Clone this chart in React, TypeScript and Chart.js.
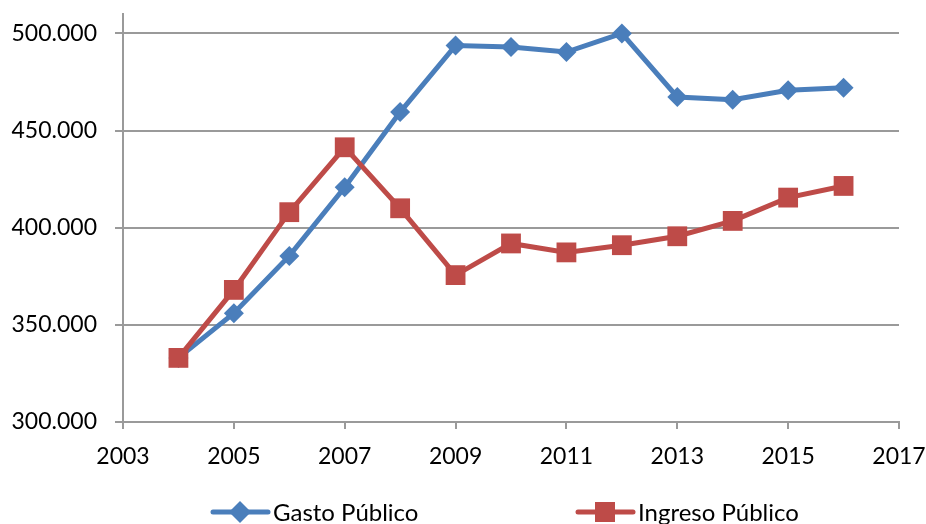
import React, { useEffect, useRef } from "react";
import { Chart, registerables } from "chart.js";

Chart.register(...registerables);

const years = [2004, 2005, 2006, 2007, 2008, 2009, 2010, 2011, 2012, 2013, 2014, 2015, 2016];
const gastoPublico = [333000, 356000, 385500, 420800, 459500, 493800, 493000, 490400, 500000, 467300, 465900, 470700, 472100];
const ingresoPublico = [333000, 368000, 408000, 441400, 410000, 375600, 391900, 387300, 391000, 395600, 403500, 415500, 421500];
const seriesNames = ["Gasto Público", "Ingreso Público"];
const yTicks = [300000, 350000, 400000, 450000, 500000];
const xTicks = [2003, 2005, 2007, 2009, 2011, 2013, 2015, 2017];

const BLUE = "#4A7EBB";
const RED = "#BE4B48";
const GRID = "#9a9a9a";
const FONT = "Lato";

function fmtThousands(v: number): string {
  const s = Math.round(v).toString();
  return s.replace(/\B(?=(\d{3})+(?!\d))/g, ".");
}

const legendPlugin = {
  id: "customLegend",
  afterDraw(chart: any) {
    const ctx = chart.ctx;
    const items = [
      { name: seriesNames[0], color: BLUE, style: "diamond", x: 213 },
      { name: seriesNames[1], color: RED, style: "square", x: 578 },
    ];
    const cy = 512;
    ctx.save();
    items.forEach((it) => {
      ctx.strokeStyle = it.color;
      ctx.lineWidth = 5;
      ctx.lineCap = "round";
      ctx.beginPath();
      ctx.moveTo(it.x, cy);
      ctx.lineTo(it.x + 55, cy);
      ctx.stroke();
      ctx.fillStyle = it.color;
      const mx = it.x + 27;
      ctx.beginPath();
      if (it.style === "diamond") {
        const r = 11;
        ctx.moveTo(mx, cy - r);
        ctx.lineTo(mx + r, cy);
        ctx.lineTo(mx, cy + r);
        ctx.lineTo(mx - r, cy);
        ctx.closePath();
      } else {
        ctx.rect(mx - 10, cy - 10, 20, 20);
      }
      ctx.fill();
      ctx.fillStyle = "#000";
      ctx.font = `24px ${FONT}`;
      ctx.textBaseline = "alphabetic";
      ctx.textAlign = "left";
      ctx.fillText(it.name, it.x + 60, 521);
    });
    ctx.restore();
  },
};

export default function App() {
  const ref = useRef<HTMLCanvasElement | null>(null);
  useEffect(() => {
    if (!ref.current) return;
    const chart = new Chart(ref.current, {
      type: "line",
      data: {
        datasets: [
          {
            label: seriesNames[0],
            data: years.map((y, i) => ({ x: y, y: gastoPublico[i] })),
            borderColor: BLUE,
            backgroundColor: BLUE,
            borderWidth: 5,
            pointStyle: "rectRot",
            pointRadius: 10,
            pointBorderWidth: 0,
            tension: 0,
            order: 1,
          },
          {
            label: seriesNames[1],
            data: years.map((y, i) => ({ x: y, y: ingresoPublico[i] })),
            borderColor: RED,
            backgroundColor: RED,
            borderWidth: 5,
            pointStyle: "rect",
            pointRadius: 14,
            pointBorderWidth: 0,
            tension: 0,
            order: 0,
          },
        ],
      },
      options: {
        animation: false,
        responsive: false,
        maintainAspectRatio: false,
        layout: { padding: { top: 14, right: 27, left: 0, bottom: 52 } },
        plugins: { legend: { display: false }, tooltip: { enabled: false } },
        scales: {
          x: {
            type: "linear",
            min: 2003,
            max: 2017,
            ticks: {
              color: "#000",
              font: { family: FONT, size: 23 },
              padding: 14,
              maxRotation: 0,
              autoSkip: false,
              callback: (v: any) => String(v),
            },
            afterBuildTicks: (s: any) => {
              s.ticks = xTicks.map((v) => ({ value: v }));
            },
            grid: { drawOnChartArea: false, drawTicks: true, tickLength: 7, color: GRID, lineWidth: 2 },
            border: { color: GRID, width: 2 },
            afterFit: (s: any) => {
              s.height = 50;
              s.paddingLeft = 0;
              s.paddingRight = 0;
            },
          },
          y: {
            type: "linear",
            min: 300000,
            max: 510000,
            ticks: {
              color: "#000",
              font: { family: FONT, size: 23 },
              padding: 18,
              autoSkip: false,
              callback: (v: any) => fmtThousands(Number(v)),
            },
            afterBuildTicks: (s: any) => {
              s.ticks = yTicks.map((v) => ({ value: v }));
            },
            grid: { color: GRID, lineWidth: 2, tickLength: 8 },
            border: { color: GRID, width: 2 },
            afterFit: (s: any) => {
              s.width = 123;
              s.paddingTop = 0;
              s.paddingBottom = 0;
            },
          },
        },
      },
      plugins: [legendPlugin],
    });
    return () => chart.destroy();
  }, []);
  return (
    <div style={{ position: "absolute", left: 0, top: 0, width: 926, height: 524, background: "#fff" }}>
      <canvas ref={ref} width={926} height={524} style={{ display: "block" }} />
    </div>
  );
}
